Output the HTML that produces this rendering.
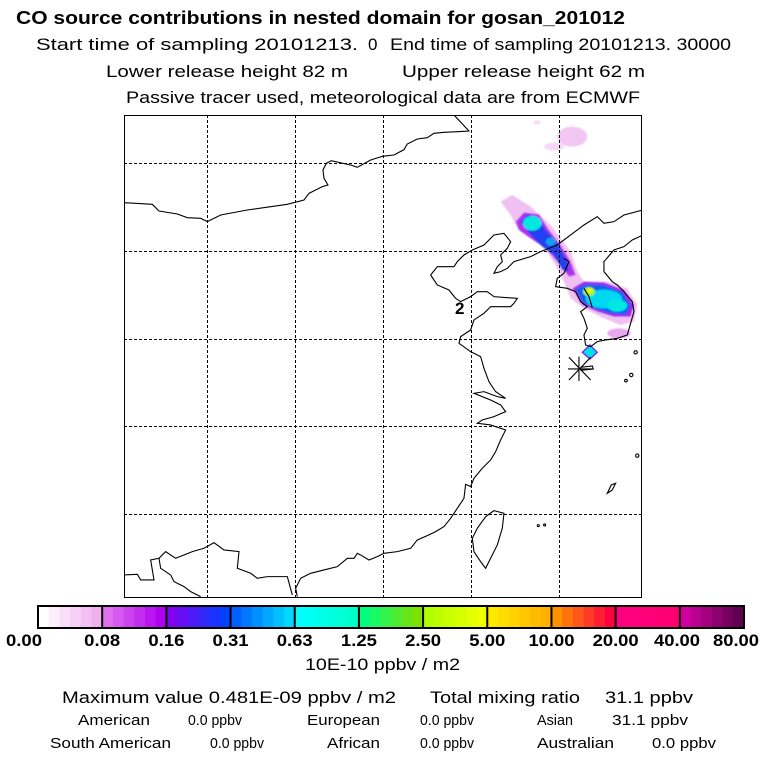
<!DOCTYPE html>
<html><head><meta charset="utf-8"><style>
html,body{margin:0;padding:0;background:#fff;}
svg{display:block;font-family:"Liberation Sans",sans-serif;}
</style></head><body>
<svg id="chart" width="768" height="768" viewBox="0 0 768 768" xmlns="http://www.w3.org/2000/svg">
<defs>
<filter id="blur2" x="-50%" y="-50%" width="200%" height="200%"><feGaussianBlur stdDeviation="2.5"/></filter>
<clipPath id="mapclip"><rect x="124" y="115" width="518" height="483"/></clipPath>
</defs>
<g font-size="17">
<text x="16" y="24" font-weight="bold" font-size="18" textLength="609" lengthAdjust="spacingAndGlyphs">CO  source contributions in nested domain for gosan_201012</text>
<text x="36" y="50" textLength="322" lengthAdjust="spacingAndGlyphs">Start time of sampling 20101213.</text>
<text x="368" y="50">0</text>
<text x="390" y="50" textLength="341" lengthAdjust="spacingAndGlyphs">End time of sampling 20101213. 30000</text>
<text x="106" y="77" textLength="242" lengthAdjust="spacingAndGlyphs">Lower release height   82 m</text>
<text x="402" y="77" textLength="243" lengthAdjust="spacingAndGlyphs">Upper release height   62 m</text>
<text x="126" y="103" textLength="514" lengthAdjust="spacingAndGlyphs">Passive tracer used, meteorological data are from ECMWF</text>
</g>
<g clip-path="url(#mapclip)">
<g id="plume" transform="translate(124,115) scale(0.3333)">
<g filter="url(#blur2)">
<ellipse cx="1345" cy="65" rx="45" ry="30" fill="#f2c6f2"/>
<ellipse cx="1290" cy="95" rx="30" ry="12" fill="#f6d8f6"/>
<ellipse cx="1240" cy="22" rx="10" ry="6" fill="#f6d8f6"/>
<path d="M1130,260 L1165,240 L1220,275 L1280,330 L1340,410 L1360,470 L1380,500 L1450,500 L1510,520 L1540,570 L1530,620 L1490,630 L1440,610 L1380,580 L1340,550 L1320,500 L1300,460 L1270,410 L1240,370 L1180,340 L1160,300 Z" fill="#f0c0f0"/>
<ellipse cx="1485" cy="655" rx="35" ry="15" fill="#e8a8f0"/>
<path d="M1175,320 L1200,292 L1245,298 L1275,345 L1310,390 L1340,440 L1355,480 L1335,485 L1300,440 L1265,400 L1220,370 L1185,345 Z" fill="#b030f0"/>
<path d="M1345,520 L1380,500 L1440,502 L1500,525 L1530,570 L1520,605 L1470,605 L1420,590 L1375,570 Z" fill="#a020f0"/>
<path d="M1190,320 L1210,300 L1240,305 L1265,345 L1300,385 L1330,440 L1335,470 L1315,465 L1290,420 L1255,395 L1220,360 Z" fill="#2040f0"/>
<path d="M1355,522 L1385,508 L1440,510 L1495,532 L1520,575 L1505,598 L1460,595 L1410,580 L1375,560 Z" fill="#1060f0"/>
<ellipse cx="1225" cy="325" rx="28" ry="22" fill="#00e8e0"/>
<ellipse cx="1280" cy="380" rx="15" ry="12" fill="#10a0f0"/>
<ellipse cx="1440" cy="552" rx="55" ry="28" fill="#00d8f0"/>
<ellipse cx="1480" cy="572" rx="30" ry="18" fill="#00e8e0"/>
<ellipse cx="1395" cy="530" rx="18" ry="14" fill="#a0f040"/>
<ellipse cx="1398" cy="527" rx="8" ry="7" fill="#f0ff00"/>
</g>
<path d="M1375,712 L1398,690 L1420,712 L1398,732 Z" fill="#00e0e8" stroke="#8020f0" stroke-width="4"/>
</g>
<g stroke="#000" stroke-width="1" stroke-dasharray="3,2">
<line x1="207.5" y1="115" x2="207.5" y2="598"/><line x1="295.5" y1="115" x2="295.5" y2="598"/>
<line x1="383.5" y1="115" x2="383.5" y2="598"/><line x1="471.5" y1="115" x2="471.5" y2="598"/>
<line x1="559.5" y1="115" x2="559.5" y2="598"/>
<line x1="124" y1="163.5" x2="642" y2="163.5"/><line x1="124" y1="251.5" x2="642" y2="251.5"/>
<line x1="124" y1="339.5" x2="642" y2="339.5"/><line x1="124" y1="426.5" x2="642" y2="426.5"/>
<line x1="124" y1="514.5" x2="642" y2="514.5"/>
</g>
<g transform="translate(124,115) scale(0.3333)" fill="none" stroke="#000" stroke-width="3.3">
<path d="M0,263 L85,268 L105,288 L160,297 L190,308 L230,310 L250,320 L290,300 L370,285 L490,268 L540,255 L555,235 L575,225 L595,215 L612,210 L600,190 L597,165 L607,145 L622,137 L680,150 L700,157 L740,135 L775,124 L810,120 L840,104 L850,87 L880,72 L910,68 L930,55 L960,52 L1000,50 L1035,48 L990,0"/>
<path d="M1557,285 L1500,300 L1470,320 L1440,325 L1420,305 L1380,330 L1340,360 L1300,390 L1250,410 L1220,425 L1170,440 L1150,460 L1130,470 L1110,475 L1120,455 L1135,440 L1130,420 L1150,400 L1160,380 L1140,355 L1110,360 L1080,390 L1045,405 L1020,420 L1000,440 L990,455 L940,455 L920,480 L940,510 L975,525 L995,550 L1010,560 L1040,545 L1060,530 L1090,530 L1110,545 L1150,548 L1180,550 L1170,565 L1160,575 L1130,575 L1100,575 L1080,595 L1050,615 L1040,645 L1010,665 L1005,685 L1040,710 L1070,725 L1080,760 L1095,800 L1115,830 L1145,850 L1120,845 L1080,830 L1050,835 L1100,855 L1130,870 L1145,890 L1110,905 L1075,915 L1060,925 L1100,930 L1145,945 L1130,975 L1115,1010 L1100,1035 L1075,1060 L1050,1090 L1040,1115 L1025,1108 L1020,1150 L1000,1180 L980,1210 L960,1235 L935,1250 L910,1262 L880,1275 L860,1300 L820,1310 L780,1315 L760,1325 L735,1335 L710,1320 L700,1315 L690,1330 L670,1330 L640,1355 L600,1365 L560,1375 L530,1390 L515,1420 L520,1445"/>
<path d="M0,1380 L40,1378 L50,1395 L90,1395 L80,1335 L105,1330 L125,1310 L155,1330 L205,1310 L240,1300 L270,1283 L300,1305 L345,1310 L340,1360 L380,1375 L400,1390 L430,1385 L490,1385 L505,1440"/>
<path d="M105,1330 L110,1360 L140,1380 L150,1400 L180,1415 L200,1430 L230,1445"/>
<path d="M1320,430 L1335,440 L1320,475 L1300,490 L1295,515 L1330,520 L1355,530 L1370,560 L1390,575 L1370,590 L1380,610 L1390,640 L1380,660 L1385,690 L1400,695 L1420,680 L1445,675 L1480,670 L1510,660 L1520,625 L1530,590 L1525,560 L1500,530 L1480,510 L1465,500 L1440,470 L1440,440 L1470,405 L1500,395 L1525,375 L1557,360"/>
<path d="M1380,520 L1395,545 L1405,578"/>
<path d="M1110,1187 L1140,1195 L1135,1240 L1120,1290 L1100,1330 L1085,1360 L1070,1340 L1050,1310 L1045,1270 L1060,1240 L1085,1205 Z"/>
<path d="M1450,1135 L1462,1110 L1475,1105 L1465,1125 Z"/>
<circle cx="1535" cy="712" r="5"/><circle cx="1522" cy="780" r="5"/><circle cx="1506" cy="797" r="4"/>
<circle cx="1540" cy="1022" r="5"/><circle cx="1243" cy="1232" r="3"/><circle cx="1262" cy="1230" r="3"/>
<path d="M1335,727 L1400,795 M1335,795 L1400,727 M1365,725 L1365,798 M1332,762 L1405,762 M1370,757 L1405,753 L1408,762 L1370,766"/>
</g>
<text x="455" y="314" font-weight="bold" font-size="17">2</text>
</g>
<rect x="124.5" y="115.5" width="517" height="482" fill="none" stroke="#000" stroke-width="1"/>
<g id="colorbar"></g>
<g font-size="17">
<text x="305" y="670" textLength="155" lengthAdjust="spacingAndGlyphs">10E-10 ppbv / m2</text>
<text x="62" y="703" textLength="334" lengthAdjust="spacingAndGlyphs">Maximum value  0.481E-09 ppbv / m2</text>
<text x="430" y="703" textLength="150" lengthAdjust="spacingAndGlyphs">Total mixing ratio</text>
<text x="605" y="703" textLength="88" lengthAdjust="spacingAndGlyphs">31.1 ppbv</text>
<g font-size="15">
<text x="78" y="725" textLength="72" lengthAdjust="spacingAndGlyphs">American</text>
<text x="188" y="725" textLength="54" lengthAdjust="spacingAndGlyphs">0.0 ppbv</text>
<text x="307" y="725" textLength="73" lengthAdjust="spacingAndGlyphs">European</text>
<text x="420" y="725" textLength="54" lengthAdjust="spacingAndGlyphs">0.0 ppbv</text>
<text x="537" y="725" textLength="36" lengthAdjust="spacingAndGlyphs">Asian</text>
<text x="612" y="725" textLength="76" lengthAdjust="spacingAndGlyphs">31.1 ppbv</text>
<text x="50" y="748" textLength="121" lengthAdjust="spacingAndGlyphs">South American</text>
<text x="210" y="748" textLength="54" lengthAdjust="spacingAndGlyphs">0.0 ppbv</text>
<text x="327" y="748" textLength="53" lengthAdjust="spacingAndGlyphs">African</text>
<text x="420" y="748" textLength="54" lengthAdjust="spacingAndGlyphs">0.0 ppbv</text>
<text x="537" y="748" textLength="77" lengthAdjust="spacingAndGlyphs">Australian</text>
<text x="652" y="748" textLength="64" lengthAdjust="spacingAndGlyphs">0.0 ppbv</text>
</g>
</g>
</svg>
<script>
const tickLabels = ["0.00","0.08","0.16","0.31","0.63","1.25","2.50","5.00","10.00","20.00","40.00","80.00"];
const segStart = ["#ffffff","#e070f0","#8000f0","#0060ff","#00ffff","#00ff80","#b0ff00","#ffe800","#ff9000","#ff0080","#d000a0"];
const segEnd = ["#f0b0f0","#b000f0","#0040ff","#00d8ff","#00ffc8","#80e000","#f0ff00","#ffb000","#ff0040","#ff0070","#600050"];
const NS="http://www.w3.org/2000/svg";
const cb=document.getElementById('colorbar');
const x0=38,x1=744,y0=606,h=22;
const nSeg=tickLabels.length-1;
const xs=i=>x0+(x1-x0)*i/nSeg;
function hex(c){return [1,3,5].map(k=>parseInt(c.substr(k,2),16));}
function mix(a,b,t){const A=hex(a),B=hex(b);return 'rgb('+A.map((v,i)=>Math.round(v+(B[i]-v)*t)).join(',')+')';}
const SUB=6;
for(let i=0;i<nSeg;i++){
  const w=(xs(i+1)-xs(i))/SUB;
  for(let k=0;k<SUB;k++){
    const r=document.createElementNS(NS,'rect');
    r.setAttribute('x',xs(i)+k*w);r.setAttribute('y',y0);
    r.setAttribute('width',w+0.5);r.setAttribute('height',h);
    r.setAttribute('fill',mix(segStart[i],segEnd[i],k/(SUB-1)));
    
    
    cb.appendChild(r);
  }
}
for(let i=0;i<=nSeg;i++){
  const l=document.createElementNS(NS,'line');
  l.setAttribute('x1',xs(i));l.setAttribute('x2',xs(i));
  l.setAttribute('y1',y0);l.setAttribute('y2',y0+h);
  l.setAttribute('stroke','#000');l.setAttribute('stroke-width','2');
  
  
  cb.appendChild(l);
  const t=document.createElementNS(NS,'text');
  let cx=xs(i);
  if(i===0)cx=24; if(i===nSeg)cx=736; if(i===nSeg-1)cx=677;
  t.setAttribute('x',cx);t.setAttribute('y',646);
  t.setAttribute('text-anchor','middle');t.setAttribute('font-weight','bold');t.setAttribute('font-size','17');
  t.setAttribute('textLength',tickLabels[i].length>4?46:36);t.setAttribute('lengthAdjust','spacingAndGlyphs');
  t.textContent=tickLabels[i];
  
  
  cb.appendChild(t);
}
const fr=document.createElementNS(NS,'rect');
fr.setAttribute('x',x0);fr.setAttribute('y',y0);fr.setAttribute('width',x1-x0);fr.setAttribute('height',h);
fr.setAttribute('fill','none');fr.setAttribute('stroke','#000');fr.setAttribute('stroke-width','2');


cb.appendChild(fr);
</script>
</body></html>
